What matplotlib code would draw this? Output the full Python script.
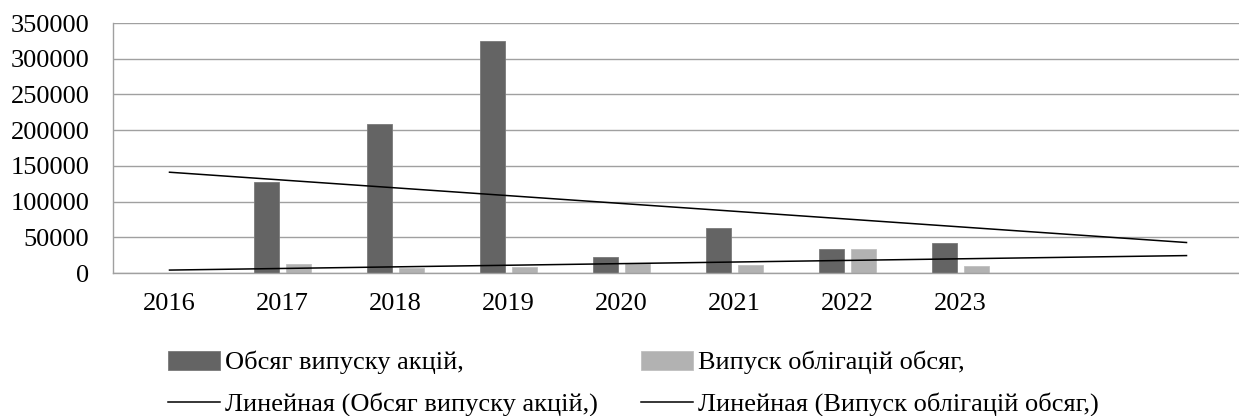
from matplotlib import pyplot as plt
import numpy as np

plt.rcParams['font.family'] = ['Liberation Serif', 'DejaVu Serif']

years = ['2016', '2017', '2018', '2019', '2020', '2021', '2022', '2023']
shares = [0, 128000, 209000, 325000, 22000, 63000, 33000, 42500]
bonds = [0, 12000, 7500, 8400, 14500, 10700, 33000, 9800]
forward = 2  # прогноз тренда на 2 периода вперед

fig = plt.figure(figsize=(12.39, 4.16), dpi=100)
ax = fig.add_axes([113 / 1239, 143 / 416, 1130 / 1239, 250 / 416])

x = np.arange(len(years))
w = 0.221
ax.bar(x - 0.1416, shares, w, color='#646464', edgecolor='#7a7a7a', linewidth=0.6,
       label='Обсяг випуску акцій,', zorder=2)
ax.bar(x + 0.1416, bonds, w, color='#b2b2b2', edgecolor='#c0c0c0', linewidth=0.6,
       label='Випуск облігацій обсяг,', zorder=2)

# линейные тренды (как в Excel)
xt = np.arange(len(years) + forward)
k1, b1 = np.polyfit(x, shares, 1)
k2, b2 = np.polyfit(x, bonds, 1)
ax.plot(xt, k1 * xt + b1, color='black', linewidth=1.1, zorder=3,
        label='Линейная (Обсяг випуску акцій,)')
ax.plot(xt, k2 * xt + b2, color='black', linewidth=1.1, zorder=3,
        label='Линейная (Випуск облігацій обсяг,)')

ax.set_xlim(-0.5, len(years) + forward - 0.5)
ax.set_ylim(0, 350000)
ax.set_yticks(range(0, 350001, 50000))
ax.set_xticks(x)
ax.set_xticklabels(years)
ax.tick_params(axis='both', length=0, labelsize=19)
ax.tick_params(axis='y', pad=17)
ax.tick_params(axis='x', pad=14.5)
ax.grid(axis='y', color='#a0a0a0', linewidth=1.0, zorder=0)
for s in ['top', 'right']:
    ax.spines[s].set_visible(False)
for s in ['left', 'bottom']:
    ax.spines[s].set_color('#a0a0a0')
    ax.spines[s].set_linewidth(1.0)

h, l = ax.get_legend_handles_labels()
order = [2, 0, 3, 1]
fig.legend([h[i] for i in order], [l[i] for i in order], ncol=2, frameon=False,
           loc='upper left', bbox_to_anchor=(168 / 1239, 65 / 416), borderpad=0,
           borderaxespad=0, fontsize=19, handlelength=1.97, handletextpad=0.2,
           columnspacing=1.62, labelspacing=0.68)

plt.savefig('out.png', dpi=100)
